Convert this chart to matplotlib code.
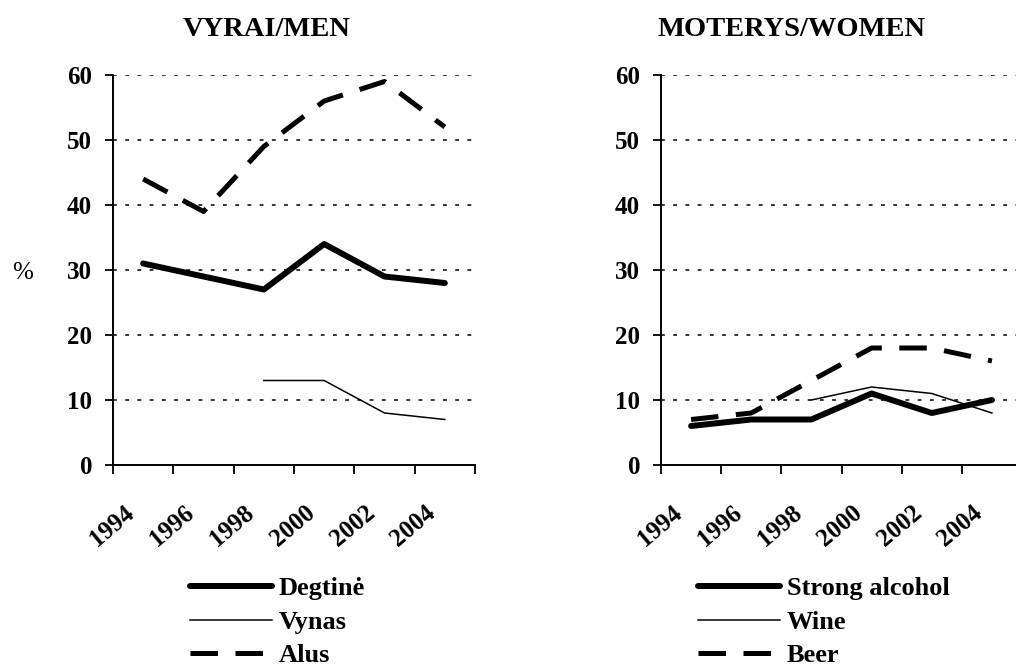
import numpy as np
import matplotlib
matplotlib.use("Agg")
import matplotlib.pyplot as plt

plt.rcParams['font.family'] = ['Liberation Serif', 'DejaVu Serif']

# survey years (category labels)
years = ["1994", "1996", "1998", "2000", "2002", "2004"]

# men, %
men_strong = [31, 29, 27, 34, 29, 28]
men_wine = [np.nan, np.nan, 13, 13, 8, 7]
men_beer = [44, 39, 49, 56, 59, 52]

# women, %
women_strong = [6, 7, 7, 11, 8, 10]
women_wine = [np.nan, np.nan, 10, 12, 11, 8]
women_beer = [7, 8, 13, 18, 18, 16]

men_labels = ["Degtinė", "Vynas", "Alus"]
women_labels = ["Strong alcohol", "Wine", "Beer"]

W, H = 1016, 666
fig = plt.figure(figsize=(W / 100, H / 100), dpi=100)

fs = 18          # tick labels
fs_leg = 19      # legend
fs_title = 20.5  # panel titles
dash = (0, (5.5, 3.5))


def panel(left, right, strong, wine, beer, labels, title, title_x, leg_x):
    ax = fig.add_axes([left / W, 1 - 465 / H, (right - left) / W, (465 - 75) / H])
    x = np.arange(len(years))
    ax.plot(x, strong, color="black", lw=4.3, solid_capstyle="round", label=labels[0])
    ax.plot(x, wine, color="black", lw=1.1, label=labels[1])
    ax.plot(x, beer, color="black", lw=3.6, linestyle=dash, label=labels[2])

    ax.set_xlim(-0.5, len(years) - 0.5)
    ax.set_ylim(0, 60)
    ax.set_yticks(range(0, 61, 10))
    for t in range(10, 61, 10):
        ax.axhline(t, color="black", lw=1.1, linestyle=(0, (2.5, 5.5)), zorder=0)

    # tick marks between categories (Excel style), labels hung just right of them
    ax.set_xticks(np.arange(-0.5, len(years), 1.0), minor=True)
    ax.set_xticks(x - 0.33)
    ax.set_xticklabels(years, rotation=40, ha="right", va="top",
                       rotation_mode="anchor", fontsize=fs, fontweight="bold")
    ax.tick_params(axis="x", which="major", length=0, pad=26)
    ax.tick_params(axis="x", which="minor", length=6.5, width=1.3, direction="out")
    ax.tick_params(axis="y", length=6, width=1.3, direction="out", pad=9)
    for lab in ax.get_yticklabels():
        lab.set_fontsize(fs)
        lab.set_fontweight("bold")

    for s in ["top", "right"]:
        ax.spines[s].set_visible(False)
    for s in ["left", "bottom"]:
        ax.spines[s].set_linewidth(1.4)

    fig.text(title_x / W, 1 - 29 / H, title, ha="center", va="center",
             fontsize=fs_title, fontweight="bold")

    ax.legend(loc="upper left", bbox_to_anchor=(leg_x / W, 1 - 577 / H),
              bbox_transform=fig.transFigure, frameon=False, borderpad=0,
              borderaxespad=0, handlelength=3.1, handletextpad=0.27,
              labelspacing=0.38, prop={"size": fs_leg, "weight": "bold"})
    return ax


ax1 = panel(113, 475, men_strong, men_wine, men_beer, men_labels,
            "VYRAI/MEN", 267, 190)
ax1.set_ylabel("%", fontsize=fs, rotation=0, va="center", ha="center")
ax1.yaxis.set_label_coords(-0.249, 0.492)

ax2 = panel(661, 1022, women_strong, women_wine, women_beer, women_labels,
            "MOTERYS/WOMEN", 792, 698)

fig.savefig("out.png", dpi=100)
